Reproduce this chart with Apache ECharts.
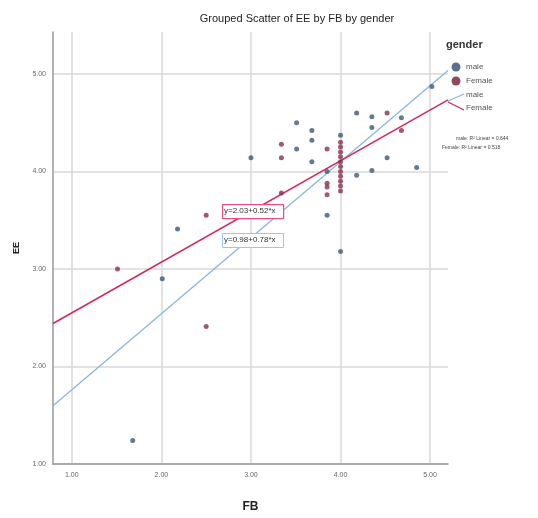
<!DOCTYPE html>
<html><head><meta charset="utf-8">
<script src="https://cdn.jsdelivr.net/npm/echarts@6/dist/echarts.min.js"></script>
<style>html,body{margin:0;padding:0;background:#fff}#c{width:538px;height:518px}</style>
</head><body><div id="c"></div>
<script>
const xTicks = [1, 2, 3, 4, 5];
const yTicks = [1, 2, 3, 4, 5];
const maleX = [3.51, 3.68, 3.68, 3.51, 3.00, 3.68, 3.85, 3.85, 4.00, 4.00, 4.18, 4.35, 4.35, 4.68, 4.52, 4.85, 5.02, 4.18, 4.35, 2.18, 2.01, 1.68, 3.33];
const maleY = [4.50, 4.42, 4.32, 4.23, 4.14, 4.10, 4.00, 3.55, 4.37, 3.18, 4.60, 4.56, 4.45, 4.55, 4.14, 4.04, 4.87, 3.96, 4.01, 3.41, 2.90, 1.24, 3.62];
const femaleX = [3.34, 3.34, 3.85, 3.85, 3.85, 3.85, 3.34, 2.50, 1.51, 2.50, 4.52, 4.68, 4.00, 4.00, 4.00, 4.00, 4.00, 4.00, 4.00, 4.00, 4.00, 4.00, 4.00];
const femaleY = [4.28, 4.14, 4.23, 3.88, 3.84, 3.76, 3.78, 3.55, 3.00, 2.41, 4.60, 4.42, 3.80, 3.85, 3.90, 3.95, 4.00, 4.05, 4.10, 4.15, 4.20, 4.25, 4.30];
const maleFit = [0.98, 0.78];    // intercept, slope
const femaleFit = [2.03, 0.52];
const r2Labels = ['male: R\u00B2 Linear = 0.644', 'Female: R\u00B2 Linear = 0.518'];
const xMin = 0.79, xMax = 5.2, yMin = 1, yMax = 5.43;

const zip = (a, b) => a.map((v, i) => [v, b[i]]);
const fitLine = f => [[xMin, f[0] + f[1] * xMin], [xMax, f[0] + f[1] * xMax]];

const blueDot = '#3f5778', redDot = '#8a2f4e';
const blueLine = '#86b6e3', redLine = '#d5275a';
const font = 'Liberation Sans';

const chart = echarts.init(document.getElementById('c'));
chart.setOption({
  animation: false,
  textStyle: { fontFamily: font },
  title: { text: 'Grouped Scatter of EE by FB by gender', left: 292, top: 8, textAlign: 'center',
    textStyle: { fontSize: 11, fontWeight: 'normal', color: '#222', fontFamily: font } },
  grid: { left: 53, right: 90, top: 32, bottom: 52 },
  xAxis: {
    type: 'value', min: xMin, max: xMax,
    name: 'FB', nameLocation: 'middle', nameGap: 37,
    nameTextStyle: { fontSize: 12, fontWeight: 'bold', color: '#222' },
    axisLine: { show: true, lineStyle: { color: '#999', width: 1.5 } },
    axisTick: { show: false, customValues: xTicks },
    axisLabel: { customValues: xTicks, formatter: v => v.toFixed(2), fontSize: 7, color: '#666', margin: 8 },
    splitLine: { show: true, lineStyle: { color: '#d8d8d8', width: 1.5 } }
  },
  yAxis: {
    type: 'value', min: yMin, max: yMax,
    name: 'EE', nameLocation: 'middle', nameGap: 32, nameRotate: 90,
    nameTextStyle: { fontSize: 9, fontWeight: 'bold', color: '#222' },
    axisLine: { show: true, lineStyle: { color: '#999', width: 1.5 } },
    axisTick: { show: false, customValues: yTicks },
    axisLabel: { customValues: yTicks, formatter: v => v.toFixed(2), fontSize: 7, color: '#666', margin: 7 },
    splitLine: { show: true, lineStyle: { color: '#d8d8d8', width: 1.5 } }
  },
  series: [
    { name: 'male', type: 'scatter', data: zip(maleX, maleY), symbolSize: 5, itemStyle: { color: blueDot }, z: 3 },
    { name: 'Female', type: 'scatter', data: zip(femaleX, femaleY), symbolSize: 5, itemStyle: { color: redDot }, z: 3 },
    { name: 'male fit', type: 'line', data: fitLine(maleFit), showSymbol: false, lineStyle: { color: blueLine, width: 1.3 }, z: 2 },
    { name: 'Female fit', type: 'line', data: fitLine(femaleFit), showSymbol: false, lineStyle: { color: redLine, width: 1.5 }, z: 2 }
  ],
  graphic: [
    { type: 'rect', left: 222, top: 204, shape: { width: 61, height: 14 }, style: { fill: '#fff', stroke: '#e05080', lineWidth: 1.2 }, z: 10 },
    { type: 'text', left: 224, top: 207, style: { text: 'y=' + femaleFit[0].toFixed(2) + '+' + femaleFit[1].toFixed(2) + '*x', fontSize: 8, fill: '#333', fontFamily: font }, z: 11 },
    { type: 'rect', left: 222, top: 233, shape: { width: 61, height: 14 }, style: { fill: '#fff', stroke: '#9cc6ea', lineWidth: 1 }, z: 10 },
    { type: 'text', left: 224, top: 236, style: { text: 'y=' + maleFit[0].toFixed(2) + '+' + maleFit[1].toFixed(2) + '*x', fontSize: 8, fill: '#333', fontFamily: font }, z: 11 },
    { type: 'text', left: 446, top: 39, style: { text: 'gender', fontSize: 11, fontWeight: 'bold', fill: '#333', fontFamily: font } },
    { type: 'circle', shape: { cx: 456, cy: 67, r: 4.5 }, style: { fill: '#5d6f8c' } },
    { type: 'text', left: 466, top: 63, style: { text: 'male', fontSize: 8, fill: '#555', fontFamily: font } },
    { type: 'circle', shape: { cx: 456, cy: 81, r: 4.5 }, style: { fill: '#8d4a5c' } },
    { type: 'text', left: 466, top: 77, style: { text: 'Female', fontSize: 8, fill: '#555', fontFamily: font } },
    { type: 'line', shape: { x1: 448, y1: 101, x2: 464, y2: 94 }, style: { stroke: blueLine, lineWidth: 1.3 } },
    { type: 'text', left: 466, top: 91, style: { text: 'male', fontSize: 8, fill: '#555', fontFamily: font } },
    { type: 'line', shape: { x1: 448, y1: 102, x2: 464, y2: 110 }, style: { stroke: redLine, lineWidth: 1.3 } },
    { type: 'text', left: 466, top: 104, style: { text: 'Female', fontSize: 8, fill: '#555', fontFamily: font } },
    { type: 'text', left: 456, top: 136, style: { text: r2Labels[0], fontSize: 5, fill: '#444', fontFamily: font } },
    { type: 'text', left: 442, top: 145, style: { text: r2Labels[1], fontSize: 5, fill: '#444', fontFamily: font } }
  ]
});
</script></body></html>
